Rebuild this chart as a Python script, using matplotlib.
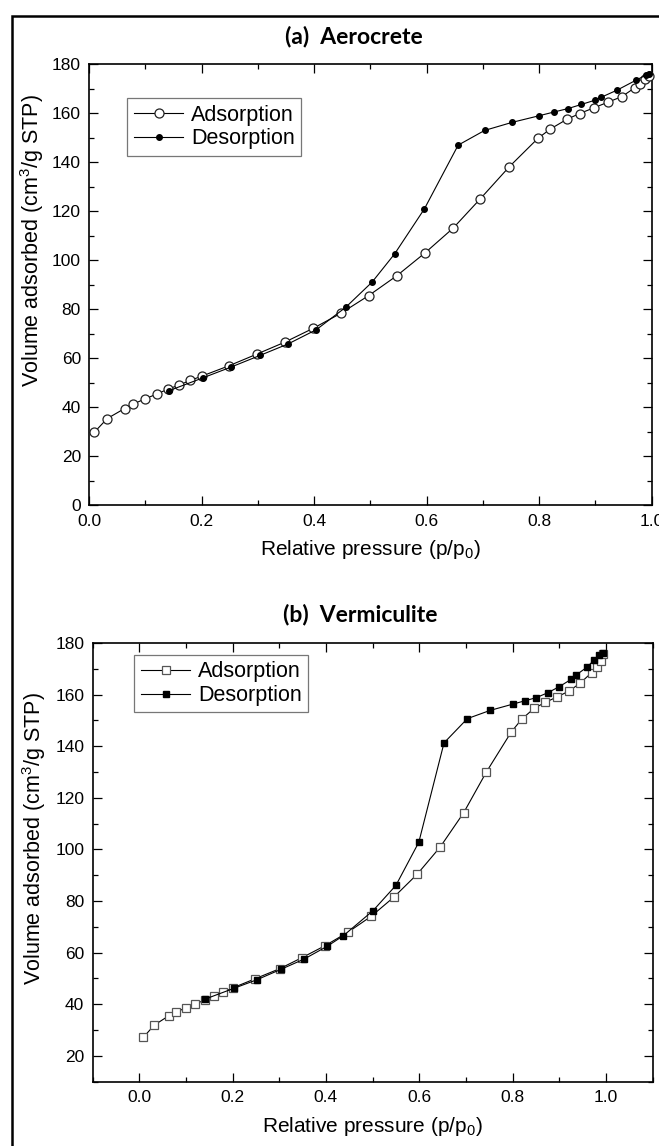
import matplotlib
matplotlib.use("Agg")
import matplotlib.pyplot as plt
from matplotlib.patches import Rectangle

# (a) Aerocrete
p_ads_a = [0.009, 0.032, 0.063, 0.078, 0.100, 0.120, 0.140, 0.159, 0.180, 0.200, 0.248, 0.298,
           0.348, 0.398, 0.447, 0.497, 0.547, 0.597, 0.647, 0.695, 0.747, 0.798, 0.820, 0.849,
           0.872, 0.897, 0.922, 0.947, 0.970, 0.980, 0.989, 0.996]
v_ads_a = [29.8, 35.4, 39.5, 41.3, 43.5, 45.4, 47.4, 49.0, 51.0, 52.7, 56.9, 61.7,
           66.6, 72.2, 78.3, 85.6, 93.7, 103.0, 113.1, 125.0, 138.2, 149.8, 153.6, 157.5,
           159.9, 162.2, 164.5, 166.8, 170.4, 172.0, 173.8, 175.4]
p_des_a = [0.141, 0.202, 0.252, 0.304, 0.354, 0.404, 0.456, 0.503, 0.543, 0.596, 0.656, 0.703,
           0.752, 0.800, 0.826, 0.851, 0.875, 0.900, 0.910, 0.939, 0.973, 0.990, 0.996]
v_des_a = [46.7, 52.0, 56.4, 61.2, 65.9, 71.7, 80.8, 91.1, 102.6, 121.0, 147.0, 153.0,
           156.3, 159.0, 160.5, 161.9, 163.6, 165.4, 166.5, 169.5, 173.6, 175.6, 176.2]

# (b) Vermiculite
p_ads_b = [0.009, 0.032, 0.063, 0.079, 0.100, 0.120, 0.141, 0.161, 0.180, 0.201, 0.247, 0.301,
           0.349, 0.397, 0.447, 0.497, 0.546, 0.596, 0.645, 0.695, 0.744, 0.797, 0.819, 0.846,
           0.870, 0.895, 0.921, 0.945, 0.969, 0.981, 0.989, 0.994]
v_ads_b = [27.2, 31.9, 35.5, 37.0, 38.6, 40.2, 41.6, 43.3, 44.7, 46.4, 49.8, 53.8,
           58.1, 62.6, 67.9, 74.1, 81.6, 90.5, 101.0, 114.2, 130.1, 145.5, 150.4, 154.7,
           157.0, 159.1, 161.4, 164.5, 168.5, 170.9, 173.1, 175.8]
p_des_b = [0.141, 0.203, 0.252, 0.303, 0.353, 0.403, 0.4375, 0.501, 0.550, 0.599, 0.653, 0.703,
           0.752, 0.800, 0.826, 0.850, 0.875, 0.900, 0.926, 0.936, 0.959, 0.974, 0.985, 0.994]
v_des_b = [42.0, 46.2, 49.5, 53.5, 57.5, 62.5, 66.6, 76.3, 86.1, 102.8, 141.3, 150.7,
           153.9, 156.3, 157.6, 158.8, 160.7, 163.1, 166.0, 167.6, 170.6, 173.3, 175.4, 176.2]

plt.rcParams['font.family'] = ['Liberation Sans', 'DejaVu Sans']
plt.rcParams['mathtext.fontset'] = 'custom'
plt.rcParams['mathtext.rm'] = 'Liberation Sans'
plt.rcParams['mathtext.it'] = 'Liberation Sans'
plt.rcParams['mathtext.default'] = 'regular'

fig = plt.figure(figsize=(6.59, 11.46), dpi=100)

# frame round the whole figure (right and bottom edges fall outside)
fig.add_artist(Rectangle((0.018, -0.1), 2.0, 1.086, transform=fig.transFigure,
                         fill=False, lw=1.8, ec='black'))

ax1 = fig.add_axes([0.1354, 0.5591, 0.8534, 0.3848])
ax2 = fig.add_axes([0.1404, 0.0561, 0.8500, 0.3828])


def style_axes(ax):
    for s in ax.spines.values():
        s.set_linewidth(1.2)
    ax.tick_params(which='both', direction='in', top=True, right=True, labelsize=12.5, width=0.9)
    ax.tick_params(which='major', length=6.5, pad=6)
    ax.tick_params(which='minor', length=3.6)
    ax.set_xlabel(r'Relative pressure (p/p$_0$)', fontsize=15, labelpad=7)
    ax.set_ylabel(r'Volume adsorbed (cm$^3$/g STP)', fontsize=15.5)


def add_legend(ax, anchor):
    leg = ax.legend(loc='upper left', bbox_to_anchor=anchor, fontsize=15.5, frameon=True,
                    fancybox=False, edgecolor='#555555', handlelength=2.3, handletextpad=0.35,
                    labelspacing=0.12, borderpad=0.3, borderaxespad=0)
    leg.get_frame().set_linewidth(0.9)


# panel a
ax1.plot(p_ads_a, v_ads_a, '-o', color='black', lw=0.8, ms=6.5, mfc='white', mec='#222222',
         mew=0.9, label='Adsorption', clip_on=False, zorder=3)
ax1.plot(p_des_a, v_des_a, '-o', color='black', lw=0.8, ms=4, mfc='black', mec='black',
         label='Desorption', clip_on=False, zorder=4)
ax1.set_xlim(0, 1.0)
ax1.set_ylim(0, 180)
ax1.set_xticks([0.0, 0.2, 0.4, 0.6, 0.8, 1.0])
ax1.set_xticks([0.1, 0.3, 0.5, 0.7, 0.9], minor=True)
ax1.set_yticks(range(0, 181, 20))
ax1.set_yticks(range(10, 180, 20), minor=True)
style_axes(ax1)
ax1.yaxis.set_label_coords(-0.077, 0.60)
add_legend(ax1, (0.068, 0.923))

# panel b
ax2.plot(p_ads_b, v_ads_b, '-s', color='black', lw=0.8, ms=6, mfc='white', mec='#555555',
         mew=0.9, label='Adsorption', clip_on=False, zorder=3)
ax2.plot(p_des_b, v_des_b, '-s', color='black', lw=0.8, ms=4, mfc='black', mec='black',
         label='Desorption', clip_on=False, zorder=4)
ax2.set_xlim(-0.1, 1.1)
ax2.set_ylim(10, 180)
ax2.set_xticks([0.0, 0.2, 0.4, 0.6, 0.8, 1.0])
ax2.set_xticks([-0.1, 0.1, 0.3, 0.5, 0.7, 0.9, 1.1], minor=True)
ax2.set_yticks(range(20, 181, 20))
ax2.set_yticks(range(10, 180, 10), minor=True)
style_axes(ax2)
ax2.yaxis.set_label_coords(-0.08, 0.555)
add_legend(ax2, (0.0748, 0.9727))

fig.text(0.537, 0.968, '(a)  Aerocrete', ha='center', va='center', fontsize=16.5,
         fontweight='bold', family=['Lato', 'DejaVu Sans'])
fig.text(0.547, 0.4634, '(b)  Vermiculite', ha='center', va='center', fontsize=16.5,
         fontweight='bold', family=['Lato', 'DejaVu Sans'])

fig.savefig('out.png', dpi=100)
